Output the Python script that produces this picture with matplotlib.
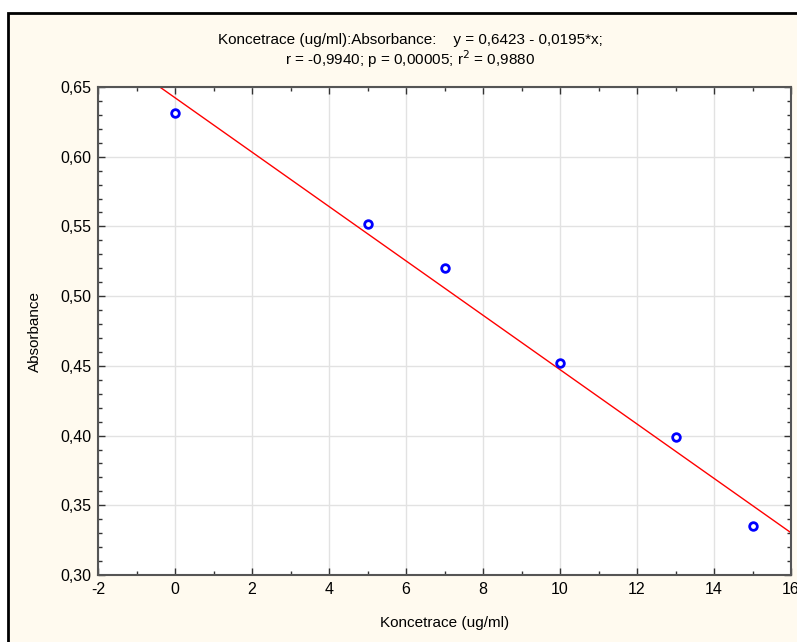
import numpy as np
import matplotlib.pyplot as plt
from matplotlib.patches import Rectangle
from matplotlib.ticker import MultipleLocator, FuncFormatter

plt.rcParams['font.family'] = ['Liberation Sans', 'DejaVu Sans']

# data
konc = [0, 5, 7, 10, 13, 15]
absorb = [0.631, 0.552, 0.520, 0.452, 0.399, 0.335]

# fit shown in the title
intercept = 0.6423
slope = -0.0195

title_1 = "Koncetrace (ug/ml):Absorbance:    y = 0,6423 - 0,0195*x;"
title_2 = "r = -0,9940; p = 0,00005; r$^2$ = 0,9880"

W, H = 797, 642
fig = plt.figure(figsize=(W / 100, H / 100), dpi=100, facecolor="white")

# cream panel with black frame (right/bottom edges run off the picture)
frame = Rectangle((8 / W, -0.1), 1.2, 1.1 - 13 / H, transform=fig.transFigure,
                  facecolor="#fffaef", edgecolor="black", linewidth=2, zorder=-10)
fig.patches.append(frame)

ax = fig.add_axes([98 / W, 1 - 575 / H, (791 - 98) / W, (575 - 87) / H])
ax.set_facecolor("white")

ax.set_xlim(-2, 16)
ax.set_ylim(0.30, 0.65)
ax.xaxis.set_major_locator(MultipleLocator(2))
ax.xaxis.set_minor_locator(MultipleLocator(1))
ax.yaxis.set_major_locator(MultipleLocator(0.05))
ax.yaxis.set_minor_locator(MultipleLocator(0.01))
ax.yaxis.set_major_formatter(FuncFormatter(lambda v, p: f"{v:.2f}".replace(".", ",")))
ax.xaxis.set_major_formatter(FuncFormatter(lambda v, p: f"{v:.0f}"))

ax.grid(True, which="major", color="#e2e2e2", linewidth=1)
ax.set_axisbelow(True)

for s in ax.spines.values():
    s.set_color("#555555")
    s.set_linewidth(1.5)

ax.tick_params(which="both", direction="in", top=True, right=True,
               color="#333333", labelsize=11.5)
ax.tick_params(axis="x", pad=5)
ax.tick_params(axis="y", pad=5)
ax.tick_params(which="major", length=5, width=1)
ax.tick_params(which="minor", length=3, width=1)

xx = np.array([-2, 16])
ax.plot(xx, intercept + slope * xx, color="red", linewidth=1)
ax.plot(konc, absorb, linestyle="none", marker="o", markersize=5.5,
        markerfacecolor="white", markeredgecolor="blue", markeredgewidth=2)

ax.set_xlabel("Koncetrace (ug/ml)", fontsize=11, labelpad=14)
ax.set_ylabel("Absorbance", fontsize=11, labelpad=13)

fig.text(410 / W, 1 - 40 / H, title_1, ha="center", va="center", fontsize=11)
fig.text(410 / W, 1 - 59 / H, title_2, ha="center", va="center", fontsize=11)

fig.savefig("out.png", dpi=100, facecolor=fig.get_facecolor())
